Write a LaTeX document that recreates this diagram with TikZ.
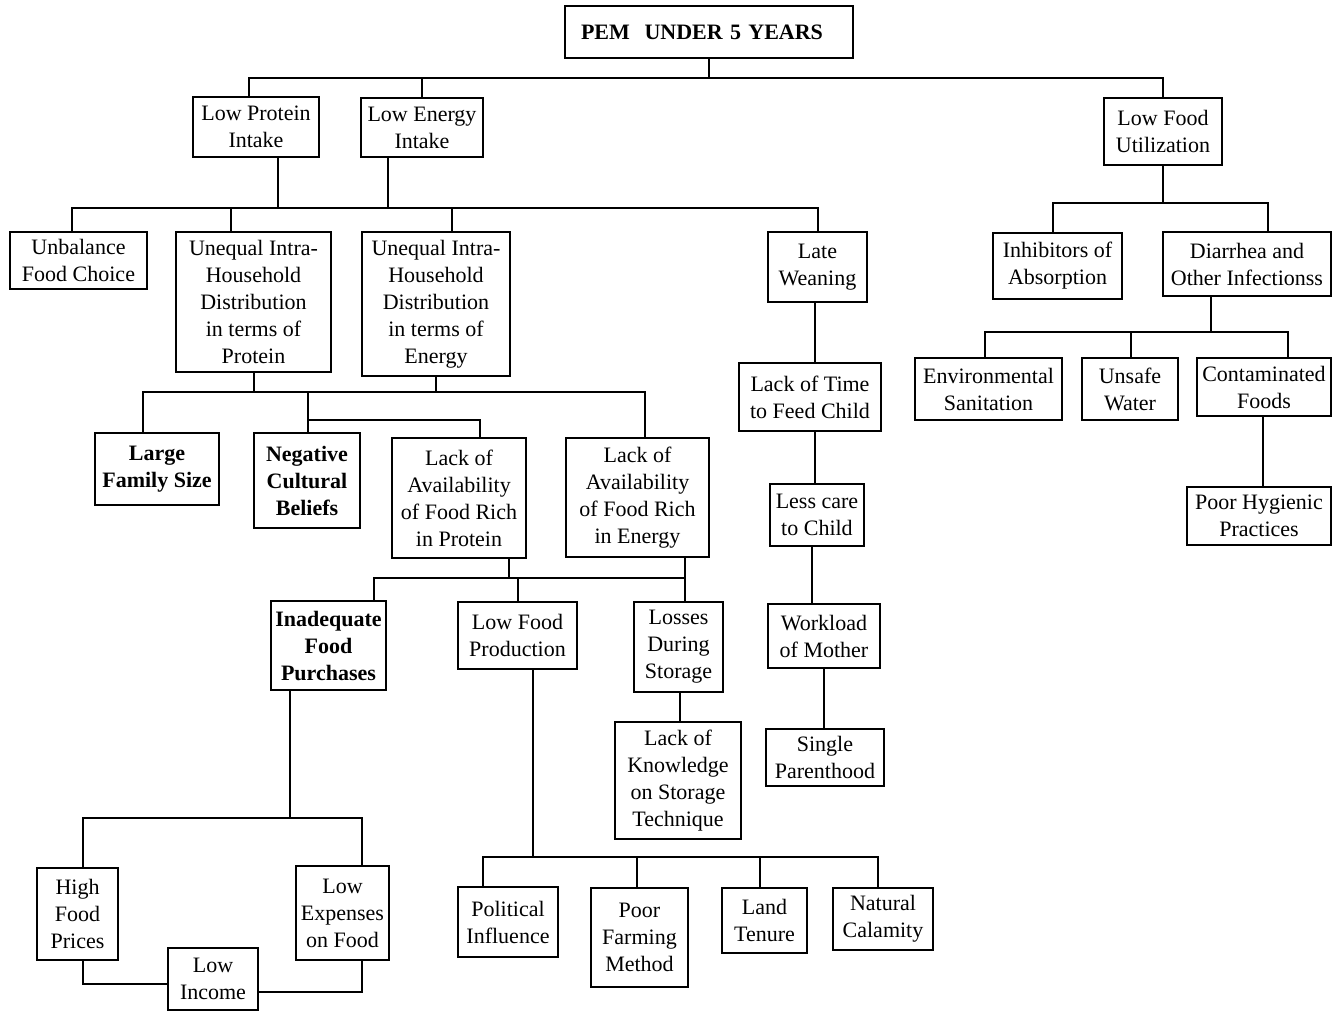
\documentclass[tikz,border=0pt]{standalone}
\usepackage{fontspec}
\setmainfont{Liberation Serif}
\begin{document}
\begin{tikzpicture}[x=0.5pt,y=-0.5pt,
  box/.style={draw,line width=1.2pt,align=center,inner sep=2pt,
    font=\fontsize{11}{13.5}\selectfont},
  bbox/.style={box,font=\fontsize{11}{13.5}\selectfont\bfseries},
  link/.style={line width=1pt}]
\useasboundingbox (0,0) rectangle (1341,1012);
% box from corner (x1,y1) to corner (x2,y2)
\newcommand\bx[7][box]{%
  \node[#1,minimum width={(#5-#3)*0.5pt},minimum height={(#6-#4)*0.5pt}]
    (#2) at ({(#3+#5)/2},{(#4+#6)/2}) {#7};}

% ---- boxes ----
\node[draw,line width=1.2pt,font=\fontsize{11}{13.5}\selectfont\bfseries,
  minimum width=144pt,minimum height=26pt,text width=128pt,align=left,inner sep=0pt]
  (pem) at (709,32) {PEM\ \ UNDER 5 YEARS};
\bx{lpi}{193}{97}{319}{157}{Low Protein\\Intake}
\bx{lei}{361}{98}{483}{157}{Low Energy\\Intake}
\bx{lfu}{1104}{98}{1222}{165}{Low Food\\Utilization}

\bx{ufc}{10}{232}{147}{289}{Unbalance\\Food Choice}
\bx{uip}{176}{232}{331}{372}{Unequal Intra-\\Household\\Distribution\\in terms of\\Protein}
\bx{uie}{362}{232}{510}{376}{Unequal Intra-\\Household\\Distribution\\in terms of\\Energy}
\bx{lw}{768}{232}{867}{302}{Late\\Weaning}

\bx[bbox]{lfs}{95}{433}{219}{505}{Large\\Family Size}
\bx[bbox]{ncb}{254}{433}{360}{528}{Negative\\Cultural\\Beliefs}
\bx{lap}{392}{438}{526}{558}{Lack of\\Availability\\of Food Rich\\in Protein}
\bx{lae}{566}{438}{709}{557}{Lack of\\Availability\\of Food Rich\\in Energy}

\bx[bbox]{ifp}{271}{601}{386}{690}{Inadequate\\Food\\Purchases}
\bx{lfp}{458}{602}{577}{669}{Low Food\\Production}
\bx{lds}{634}{602}{723}{692}{Losses\\During\\Storage}
\bx{lks}{615}{722}{741}{839}{Lack of\\Knowledge\\on Storage\\Technique}

\bx{hfp}{37}{868}{118}{960}{High\\Food\\Prices}
\bx{lef}{296}{866}{389}{960}{Low\\Expenses\\on Food}
\bx{li}{168}{948}{258}{1010}{Low\\Income}

\bx{pi}{458}{887}{558}{957}{Political\\Influence}
\bx{pfm}{591}{888}{688}{987}{Poor\\Farming\\Method}
\bx{lt}{722}{888}{807}{953}{Land\\Tenure}
\bx{nc}{833}{888}{933}{950}{Natural\\Calamity}

\bx{ltf}{739}{363}{881}{431}{Lack of Time\\to Feed Child}
\bx{lcc}{770}{484}{864}{546}{Less care\\to Child}
\bx{wm}{768}{604}{880}{668}{Workload\\of Mother}
\bx{sgp}{766}{729}{884}{786}{Single\\Parenthood}

\bx{ia}{993}{233}{1122}{299}{Inhibitors of\\Absorption}
\bx{doi}{1163}{232}{1331}{296}{Diarrhea and\\Other Infectionss}
\bx{es}{915}{358}{1062}{420}{Environmental\\Sanitation}
\bx{uw}{1082}{358}{1178}{420}{Unsafe\\Water}
\bx{cf}{1197}{358}{1331}{416}{Contaminated\\Foods}
\bx{php}{1187}{487}{1331}{545}{Poor Hygienic\\Practices}

% ---- connectors ----
\begin{scope}[link]
% top level
\draw (pem.south) -- (709,78);
\draw (lpi.north -| 249,0) -- (249,78) -- (1163,78) -- (lfu.north -| 1163,0);
\draw (lei.north -| 422,0) -- (422,78);
% intake causes
\draw (lpi.south -| 278,0) -- (278,208);
\draw (lei.south -| 388,0) -- (388,208);
\draw (ufc.north -| 72,0) -- (72,208) -- (818,208) -- (lw.north -| 818,0);
\draw (uip.north -| 231,0) -- (231,208);
\draw (uie.north -| 452,0) -- (452,208);
% distribution causes
\draw (uip.south -| 254,0) -- (254,392);
\draw (uie.south -| 436,0) -- (436,392);
\draw (lfs.north -| 143,0) -- (143,392) -- (645,392) -- (lae.north -| 645,0);
\draw (ncb.north -| 308,0) -- (308,392);
\draw (308,420) -- (480,420) -- (lap.north -| 480,0);
% availability causes
\draw (lap.south -| 509,0) -- (509,578);
\draw (lae.south -| 685,0) -- (685,578);
\draw (ifp.north -| 374,0) -- (374,578) -- (685,578) -- (lds.north -| 685,0);
\draw (lfp.north -| 518,0) -- (518,578);
% purchases
\draw (ifp.south -| 290,0) -- (290,818);
\draw (hfp.north -| 83,0) -- (83,818) -- (362,818) -- (lef.north -| 362,0);
\draw (hfp.south -| 83,0) |- (li.west |- 0,984);
\draw (lef.south -| 362,0) |- (li.east |- 0,992);
% production
\draw (lfp.south -| 533,0) -- (533,857);
\draw (pi.north -| 483,0) -- (483,857) -- (878,857) -- (nc.north -| 878,0);
\draw (pfm.north -| 637,0) -- (637,857);
\draw (lt.north -| 760,0) -- (760,857);
% storage
\draw (lds.south -| 680,0) -- (lks.north -| 680,0);
% weaning chain
\draw (lw.south -| 815,0) -- (ltf.north -| 815,0);
\draw (ltf.south -| 815,0) -- (lcc.north -| 815,0);
\draw (lcc.south -| 812,0) -- (wm.north -| 812,0);
\draw (wm.south -| 824,0) -- (sgp.north -| 824,0);
% utilization
\draw (lfu.south -| 1163,0) -- (1163,203);
\draw (ia.north -| 1053,0) -- (1053,203) -- (1268,203) -- (doi.north -| 1268,0);
\draw (doi.south -| 1211,0) -- (1211,332);
\draw (es.north -| 985,0) -- (985,332) -- (1288,332) -- (cf.north -| 1288,0);
\draw (uw.north -| 1131,0) -- (1131,332);
\draw (cf.south -| 1263,0) -- (php.north -| 1263,0);
\end{scope}
\end{tikzpicture}
\end{document}
